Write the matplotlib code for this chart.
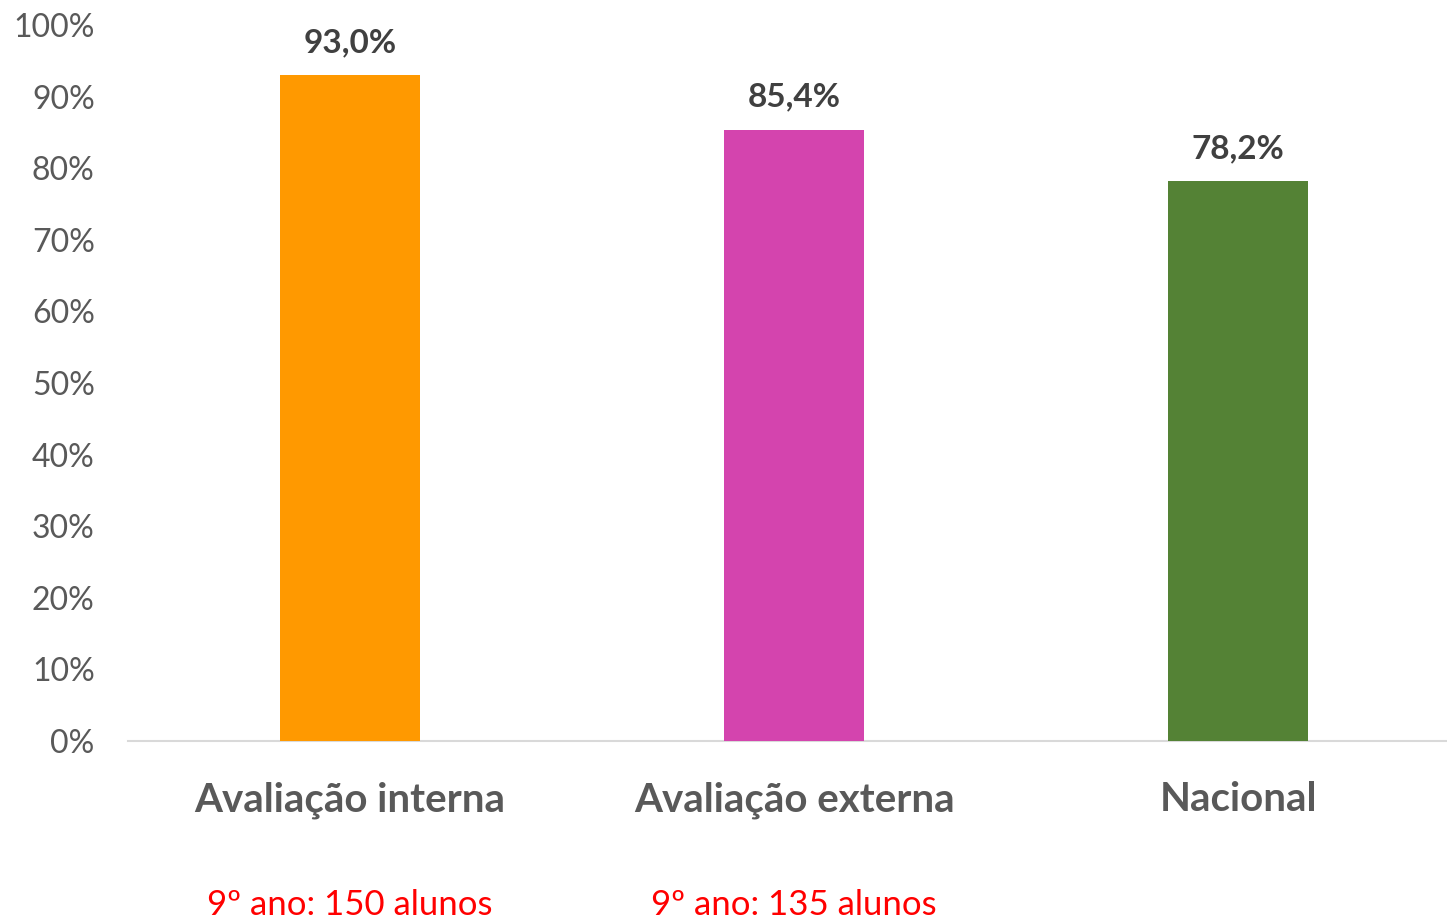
import matplotlib.pyplot as plt
from matplotlib.ticker import PercentFormatter
import matplotlib.transforms as mtransforms

categories = ["Avaliação interna", "Avaliação externa", "Nacional"]
values = [93.0, 85.4, 78.2]
colors = ["#FF9900", "#D444AE", "#548235"]
notes = ["9º ano: 150 alunos", "9º ano: 135 alunos"]

plt.rcParams['font.family'] = ['Lato', 'DejaVu Sans']

fig = plt.figure(figsize=(14.47, 9.21), dpi=100)
ax = fig.add_axes([128 / 1447, 1 - 741 / 921, 1 - 128 / 1447, 716 / 921])

x = list(range(len(categories)))
bars = ax.bar(x, values, width=0.315, color=colors, zorder=3)

for b, v in zip(bars, values):
    ax.annotate(f"{v:.1f}%".replace(".", ","), (b.get_x() + b.get_width() / 2, v),
                xytext=(0, 13), textcoords="offset points", ha="center", va="bottom",
                fontsize=24, fontweight="bold", color="#404040")

ax.set_xlim(-0.5, 2.47)
ax.set_ylim(0, 100)
ax.set_yticks(range(0, 101, 10))
ax.yaxis.set_major_formatter(PercentFormatter(decimals=0))
ax.tick_params(axis="y", length=0, pad=24, labelsize=23, labelcolor="#595959")
ax.set_xticks(x)
ax.set_xticklabels(categories, fontsize=29, fontweight="bold", color="#595959")
ax.tick_params(axis="x", length=0, pad=29)

for s in ["top", "right", "left"]:
    ax.spines[s].set_visible(False)
ax.spines["bottom"].set_color("#D9D9D9")
ax.spines["bottom"].set_linewidth(1.5)

trans = mtransforms.blended_transform_factory(ax.transData, ax.transAxes)
for i, n in enumerate(notes):
    ax.text(i, -0.229, n, transform=trans, ha="center", va="center",
            fontsize=25, color="#FF0000")

fig.savefig("out.png", dpi=100)
